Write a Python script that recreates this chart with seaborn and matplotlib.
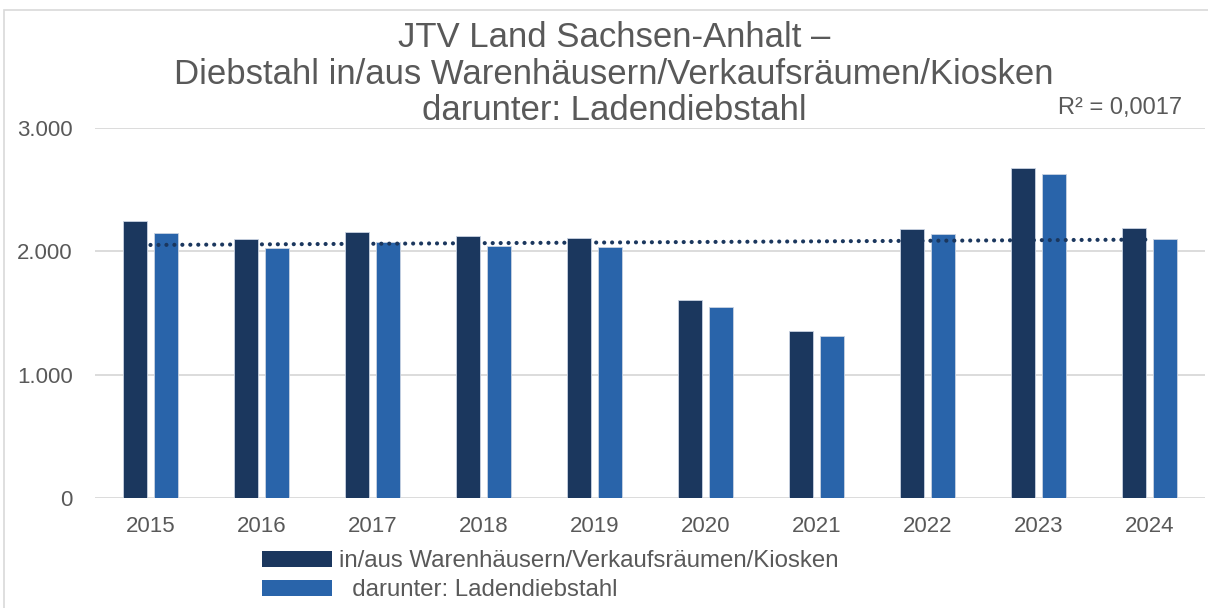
import numpy as np
import pandas as pd
import seaborn as sns
import matplotlib.pyplot as plt
from matplotlib.patches import Rectangle, Patch
from matplotlib.ticker import FuncFormatter

# data
years = ['2015', '2016', '2017', '2018', '2019', '2020', '2021', '2022', '2023', '2024']
gesamt = [2245, 2100, 2158, 2125, 2108, 1605, 1352, 2180, 2675, 2188]
laden = [2148, 2027, 2075, 2043, 2035, 1550, 1315, 2140, 2625, 2100]
series_names = ['in/aus Warenhäusern/Verkaufsräumen/Kiosken', '  darunter: Ladendiebstahl']
colors = ['#1b375e', '#2964aa']
title = 'JTV Land Sachsen-Anhalt –\nDiebstahl in/aus Warenhäusern/Verkaufsräumen/Kiosken\ndarunter: Ladendiebstahl'
r2_text = 'R² = 0,0017'

df = pd.DataFrame({
    'Jahr': years * 2,
    'Anzahl': gesamt + laden,
    'Reihe': [series_names[0]] * len(years) + [series_names[1]] * len(years),
})

sns.set_style('white')
plt.rcParams['font.family'] = ['Liberation Sans', 'DejaVu Sans']
txt = '#595959'

fig = plt.figure(figsize=(12.08, 6.08), dpi=100)
ax = fig.add_axes([95 / 1208, 1 - 498 / 608, 1110 / 1208, 370 / 608])

sns.barplot(data=df, x='Jahr', y='Anzahl', hue='Reihe', palette=colors,
            saturation=1, width=0.56, gap=0.2, ax=ax, legend=False,
            edgecolor='#c9d3e2', linewidth=0.6)

# linear trendline of the first series
xs = np.arange(len(years))
z = np.polyfit(xs, gesamt, 1)
p = np.poly1d(z)
ax.plot(xs, p(xs), color='#1b375e', linewidth=3,
        linestyle=(0, (0.01, 1.9)), dash_capstyle='round', zorder=5)

ax.set_ylim(0, 3000)
ax.set_xlim(-0.5, len(years) - 0.5)
ax.set_yticks([0, 1000, 2000, 3000])
ax.yaxis.set_major_formatter(FuncFormatter(lambda v, _: f'{int(v):,}'.replace(',', '.')))
ax.grid(axis='y', color='#d9d9d9', linewidth=1.3)
ax.set_axisbelow(True)
for s in ax.spines.values():
    s.set_visible(False)
ax.tick_params(axis='y', length=0, pad=16, labelsize=16, labelcolor=txt)
ax.tick_params(axis='x', length=0, pad=13, labelsize=16, labelcolor=txt)
ax.set_xlabel('')
ax.set_ylabel('')

fig.text(614 / 1208, 1 - 21 / 608, title, ha='center', va='top',
         fontsize=25, color=txt, linespacing=1.14)
fig.text(1182 / 1208, 1 - 108 / 608, r2_text, ha='right', va='center',
         fontsize=17, color=txt)

handles = [Patch(facecolor=c, edgecolor='none') for c in colors]
fig.legend(handles, series_names, loc='upper left',
           bbox_to_anchor=(262 / 1208, 1 - 550 / 608), frameon=False,
           fontsize=17.3, labelcolor=txt, handlelength=2.9, handleheight=0.65,
           handletextpad=0.3, labelspacing=0.3, borderpad=0, borderaxespad=0)

# light frame around the chart area
fig.patches.append(Rectangle((4 / 1208, -0.02), 1.05, 1 - 10 / 608 + 0.02,
                             transform=fig.transFigure, fill=False,
                             edgecolor='#d9d9d9', linewidth=1.2))

fig.savefig('out.png', dpi=100)
